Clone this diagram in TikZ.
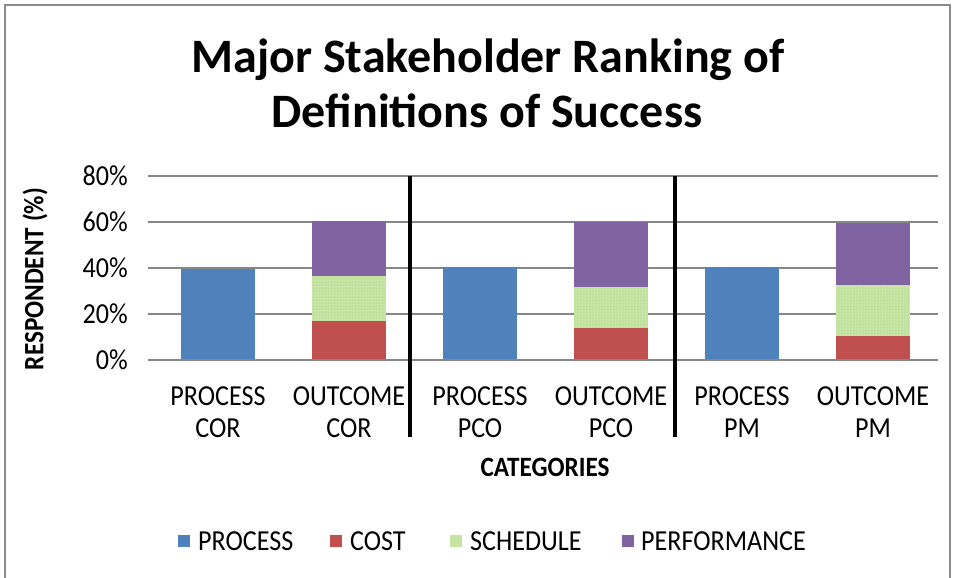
\documentclass[tikz,border=0pt]{standalone}
\usepackage{fontspec}
\setmainfont{Carlito}
\newfontfamily\condfont[FakeStretch=0.9]{Carlito}
\usetikzlibrary{patterns}
\definecolor{cprocess}{HTML}{4F81BD}
\definecolor{ccost}{HTML}{C0504D}
\definecolor{csched}{HTML}{C0E29C}
\definecolor{cperf}{HTML}{8064A2}
\definecolor{cgrid}{HTML}{878787}
\definecolor{cframe}{HTML}{8C8C8C}
\newcommand{\barseg}[4]{%
  \fill[#4] (#1,{360-2.3*#2}) rectangle ({#1+74},{360-2.3*#3});}
\newcommand{\schedseg}[3]{%
  \fill[csched] (#1,{360-2.3*#2}) rectangle ({#1+74},{360-2.3*#3});
  \fill[pattern=dots,pattern color=white] (#1,{360-2.3*#2}) rectangle ({#1+74},{360-2.3*#3});}
\begin{document}
\begin{tikzpicture}[x=1pt,y=-1pt,
  gridline/.style={draw=cgrid,line width=1.6pt},
  divider/.style={draw=black,line width=4pt},
  ticklabel/.style={anchor=east,inner sep=0pt,font=\condfont\fontsize{29}{32}\selectfont},
  catlabel/.style={anchor=base,inner sep=0pt,font=\condfont\fontsize{29}{32}\selectfont},
  axistitle/.style={inner sep=0pt,font=\condfont\fontsize{28}{32}\selectfont\bfseries},
  titletext/.style={anchor=base,inner sep=0pt,font=\fontsize{48}{54}\selectfont\bfseries},
  legtext/.style={anchor=base west,inner sep=0pt,font=\condfont\fontsize{29}{32}\selectfont},
  legsq/.style={minimum size=12pt,inner sep=0pt,anchor=center}
]
\useasboundingbox (0,0) rectangle (956,578);
\fill[white] (0,0) rectangle (956,578);
% frame
\draw[cframe,line width=1.5pt] (5,590) -- (5,5) -- (950,5) -- (950,590);
% title
\node[titletext] (t1) at (488,73) {Major Stakeholder Ranking of};
\node[titletext] (t2) at (487,128) {Definitions of Success};
% gridlines
\foreach \p/\n in {0/0,20/20,40/40,60/60,80/80}{
  \draw[gridline] (148,{360-2.3*\p}) -- (938,{360-2.3*\p});
  \node[ticklabel] (y\n) at (128,{360-2.3*\p}) {\p\%};
}
% bars
\barseg{181}{0}{39.5}{cprocess}
\barseg{312}{0}{17}{ccost}
\schedseg{312}{17}{36.5}
\barseg{312}{36.5}{60.6}{cperf}
\barseg{443}{0}{40.3}{cprocess}
\barseg{574}{0}{14}{ccost}
\schedseg{574}{14}{31.7}
\barseg{574}{31.7}{60}{cperf}
\barseg{705}{0}{40.4}{cprocess}
\barseg{836}{0}{10.6}{ccost}
\schedseg{836}{10.6}{32.6}
\barseg{836}{32.6}{59.4}{cperf}
% redraw base line
\draw[gridline] (148,360) -- (938,360);
% dividers
\coordinate (d1a) at (410,176); \coordinate (d1b) at (410,437);
\coordinate (d2a) at (675,176); \coordinate (d2b) at (675,437);
\draw[divider] (d1a) -- (d1b);
\draw[divider] (d2a) -- (d2b);
% category labels
\foreach \x/\a/\b/\n in {218/PROCESS/COR/1,349/OUTCOME/COR/2,480/PROCESS/PCO/3,611/OUTCOME/PCO/4,742/PROCESS/PM/5,873/OUTCOME/PM/6}{
  \node[catlabel] (ca\n) at (\x,405) {\a};
  \node[catlabel] (cb\n) at (\x,437) {\b};
}
% axis titles
\node[axistitle] (xt) at (545,467) {CATEGORIES};
\node[axistitle,rotate=90] (yt) at (35,279) {RESPONDENT (\%)};
% legend
\node[legsq,fill=cprocess] (l1) at (184,541) {};
\node[legtext] (lt1) at (198,550) {PROCESS};
\node[legsq,fill=ccost] (l2) at (336,541) {};
\node[legtext] (lt2) at (350,550) {COST};
\node[legsq,fill=csched] (l3) at (456,541) {};
\fill[pattern=dots,pattern color=white] (l3.north west) rectangle (l3.south east);
\node[legtext] (lt3) at (470,550) {SCHEDULE};
\node[legsq,fill=cperf] (l4) at (628,541) {};
\node[legtext] (lt4) at (641,550) {PERFORMANCE};
\end{tikzpicture}
\end{document}
